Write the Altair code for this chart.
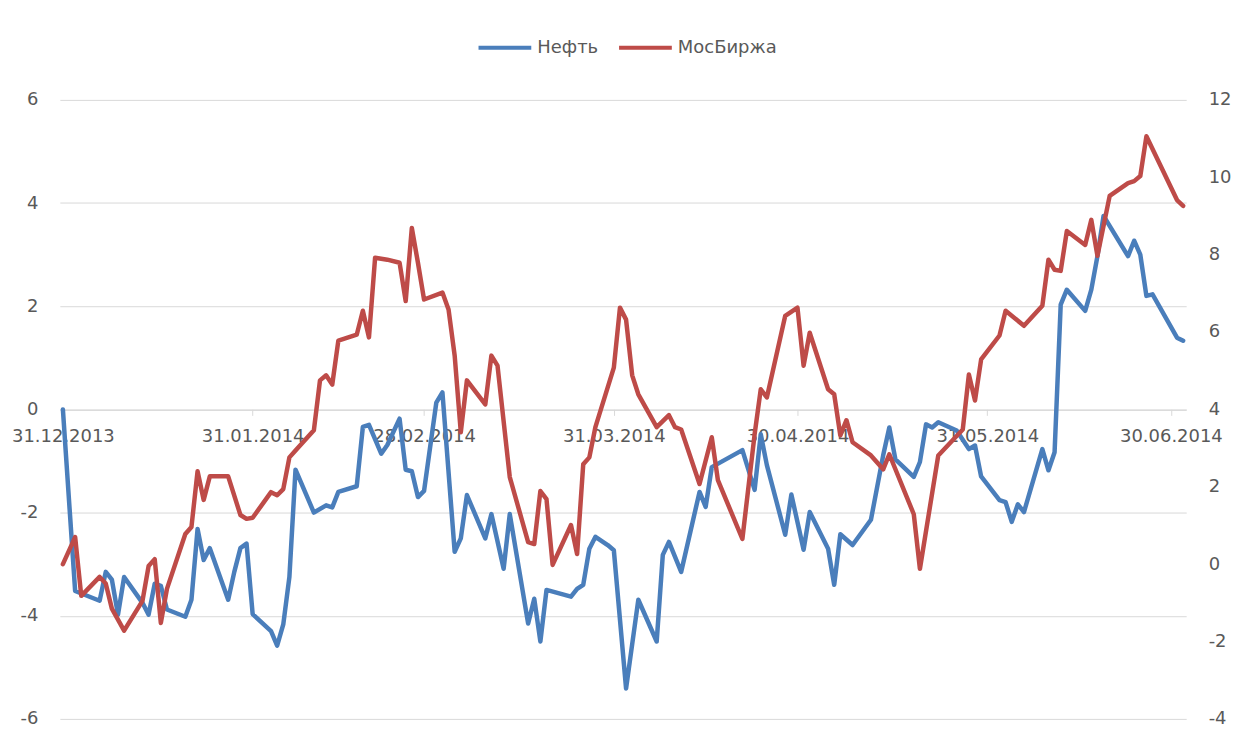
import altair as alt
import pandas as pd

# ---- data ----
neft_dates = [
    "2013-12-31", "2014-01-02", "2014-01-06", "2014-01-07", "2014-01-08", "2014-01-09", "2014-01-10",
    "2014-01-13", "2014-01-14", "2014-01-15", "2014-01-16", "2014-01-17", "2014-01-20", "2014-01-21",
    "2014-01-22", "2014-01-23", "2014-01-24", "2014-01-27", "2014-01-28", "2014-01-29", "2014-01-30",
    "2014-01-31", "2014-02-03", "2014-02-04", "2014-02-05", "2014-02-06", "2014-02-07", "2014-02-10",
    "2014-02-12", "2014-02-13", "2014-02-14", "2014-02-17", "2014-02-18", "2014-02-19", "2014-02-21",
    "2014-02-22", "2014-02-24", "2014-02-25", "2014-02-26", "2014-02-27", "2014-02-28", "2014-03-02",
    "2014-03-03", "2014-03-05", "2014-03-06", "2014-03-07", "2014-03-10", "2014-03-11", "2014-03-13",
    "2014-03-14", "2014-03-17", "2014-03-18", "2014-03-19", "2014-03-20", "2014-03-24", "2014-03-25",
    "2014-03-26", "2014-03-27", "2014-03-28", "2014-03-30", "2014-03-31", "2014-04-02", "2014-04-04",
    "2014-04-07", "2014-04-08", "2014-04-09", "2014-04-11", "2014-04-14", "2014-04-15", "2014-04-16",
    "2014-04-21", "2014-04-23", "2014-04-24", "2014-04-25", "2014-04-28", "2014-04-29", "2014-05-01",
    "2014-05-02", "2014-05-05", "2014-05-06", "2014-05-07", "2014-05-09", "2014-05-12", "2014-05-14",
    "2014-05-15", "2014-05-16", "2014-05-19", "2014-05-20", "2014-05-21", "2014-05-22", "2014-05-23",
    "2014-05-26", "2014-05-28", "2014-05-29", "2014-05-30", "2014-06-02", "2014-06-03", "2014-06-04",
    "2014-06-05", "2014-06-06", "2014-06-09", "2014-06-10", "2014-06-11", "2014-06-12", "2014-06-13",
    "2014-06-16", "2014-06-17", "2014-06-18", "2014-06-19", "2014-06-23", "2014-06-24", "2014-06-25",
    "2014-06-26", "2014-06-27", "2014-07-01", "2014-07-02",
]
neft_values = [
    0.00, -3.52, -3.71, -3.15, -3.30, -3.98, -3.25,
    -3.75, -3.98, -3.38, -3.42, -3.88, -4.02, -3.69,
    -2.32, -2.92, -2.69, -3.69, -3.15, -2.69, -2.60,
    -3.97, -4.30, -4.58, -4.17, -3.25, -1.17, -2.00,
    -1.86, -1.90, -1.60, -1.49, -0.34, -0.30, -0.86,
    -0.69, -0.18, -1.17, -1.20, -1.70, -1.58, 0.13,
    0.33, -2.76, -2.50, -1.66, -2.50, -2.03, -3.09,
    -2.03, -4.15, -3.67, -4.50, -3.50, -3.63, -3.48,
    -3.40, -2.70, -2.47, -2.63, -2.73, -5.41, -3.69,
    -4.50, -2.82, -2.57, -3.15, -1.60, -1.89, -1.12,
    -0.79, -1.56, -0.48, -1.08, -2.43, -1.65, -2.72,
    -1.99, -2.70, -3.40, -2.42, -2.63, -2.14, -0.89,
    -0.35, -0.97, -1.31, -1.02, -0.29, -0.35, -0.25,
    -0.41, -0.77, -0.70, -1.30, -1.76, -1.80, -2.18,
    -1.84, -1.99, -0.77, -1.18, -0.83, 2.03, 2.32,
    1.91, 2.32, 2.97, 3.75, 2.97, 3.27, 3.00,
    2.20, 2.23, 1.39, 1.33,
]

mos_dates = [
    "2013-12-31", "2014-01-02", "2014-01-03", "2014-01-06", "2014-01-07", "2014-01-08", "2014-01-10",
    "2014-01-13", "2014-01-14", "2014-01-15", "2014-01-16", "2014-01-17", "2014-01-20", "2014-01-21",
    "2014-01-22", "2014-01-23", "2014-01-24", "2014-01-27", "2014-01-29", "2014-01-30", "2014-01-31",
    "2014-02-03", "2014-02-04", "2014-02-05", "2014-02-06", "2014-02-07", "2014-02-10", "2014-02-11",
    "2014-02-12", "2014-02-13", "2014-02-14", "2014-02-17", "2014-02-18", "2014-02-19", "2014-02-20",
    "2014-02-22", "2014-02-24", "2014-02-25", "2014-02-26", "2014-02-27", "2014-02-28", "2014-03-03",
    "2014-03-04", "2014-03-05", "2014-03-06", "2014-03-07", "2014-03-10", "2014-03-11", "2014-03-12",
    "2014-03-14", "2014-03-17", "2014-03-18", "2014-03-19", "2014-03-20", "2014-03-21", "2014-03-24",
    "2014-03-25", "2014-03-26", "2014-03-27", "2014-03-28", "2014-03-31", "2014-04-01", "2014-04-02",
    "2014-04-03", "2014-04-04", "2014-04-07", "2014-04-09", "2014-04-10", "2014-04-11", "2014-04-14",
    "2014-04-16", "2014-04-17", "2014-04-21", "2014-04-23", "2014-04-24", "2014-04-25", "2014-04-28",
    "2014-04-30", "2014-05-01", "2014-05-02", "2014-05-05", "2014-05-06", "2014-05-07", "2014-05-08",
    "2014-05-09", "2014-05-12", "2014-05-14", "2014-05-15", "2014-05-19", "2014-05-20", "2014-05-23",
    "2014-05-27", "2014-05-28", "2014-05-29", "2014-05-30", "2014-06-02", "2014-06-03", "2014-06-06",
    "2014-06-09", "2014-06-10", "2014-06-11", "2014-06-12", "2014-06-13", "2014-06-16", "2014-06-17",
    "2014-06-18", "2014-06-20", "2014-06-23", "2014-06-24", "2014-06-25", "2014-06-26", "2014-07-01",
    "2014-07-02",
]
mos_values = [
    0.00, 0.70, -0.82, -0.33, -0.50, -1.15, -1.72,
    -0.95, -0.05, 0.13, -1.52, -0.64, 0.78, 0.96,
    2.40, 1.66, 2.27, 2.27, 1.27, 1.17, 1.20,
    1.86, 1.78, 1.94, 2.76, 2.94, 3.46, 4.75,
    4.88, 4.64, 5.78, 5.93, 6.55, 5.86, 7.92,
    7.87, 7.79, 6.80, 8.69, 7.79, 6.84, 7.02,
    6.58, 5.39, 3.41, 4.75, 4.13, 5.39, 5.13,
    2.25, 0.57, 0.52, 1.89, 1.68, -0.02, 1.01,
    0.26, 2.58, 2.76, 3.55, 5.08, 6.63, 6.32,
    4.88, 4.39, 3.54, 3.85, 3.54, 3.48, 2.07,
    3.28, 2.17, 0.65, 3.36, 4.52, 4.31, 6.42,
    6.63, 5.13, 5.98, 4.52, 4.39, 3.33, 3.72,
    3.15, 2.81, 2.45, 2.84, 1.29, -0.12, 2.81,
    3.48, 4.90, 4.23, 5.29, 5.91, 6.55, 6.16,
    6.68, 7.87, 7.61, 7.58, 8.61, 8.25, 8.90,
    7.97, 9.52, 9.85, 9.90, 10.03, 11.06, 9.41,
    9.26,
]

series_names = ["Нефть", "МосБиржа"]
series_colors = ["#4a7ebb", "#be4b48"]
left_ticks = [-6, -4, -2, 0, 2, 4, 6]
right_ticks = [-4, -2, 0, 2, 4, 6, 8, 10, 12]
x_tick_dates = [(2013, 12, 31), (2014, 1, 31), (2014, 2, 28), (2014, 3, 31),
                (2014, 4, 30), (2014, 5, 31), (2014, 6, 30)]

assert len(neft_dates) == len(neft_values)
assert len(mos_dates) == len(mos_values)

df_neft = pd.DataFrame({"date": neft_dates, "value": neft_values, "series": series_names[0]})
df_mos = pd.DataFrame({"date": mos_dates, "value": mos_values, "series": series_names[1]})

FONT = "DejaVu Sans"
TXT = "#595959"
GRID = "#d9d9d9"

W, H = 1130, 621

# plain hyphen-minus for negative tick labels, as in the reference
NUM_LABEL = "datum.value < 0 ? '-' + abs(datum.value) : '' + datum.value"

x_enc = alt.X(
    "date:T",
    scale=alt.Scale(
        type="utc",
        domain=[alt.DateTime(year=2013, month=12, date=30, hours=12, utc=True),
                alt.DateTime(year=2014, month=7, date=2, hours=12, utc=True)],
    ),
    axis=alt.Axis(
        title=None,
        values=[alt.DateTime(year=y, month=m, date=d, utc=True) for (y, m, d) in x_tick_dates],
        labelExpr="utcFormat(datum.value, '%d.%m.%Y')",
        offset=-H / 2,
        domainColor=GRID,
        tickColor=GRID,
        tickSize=6,
        labelPadding=12,
        labelFont=FONT,
        labelFontSize=18,
        labelColor=TXT,
        labelFlush=False,
        labelOverlap=False,
        grid=False,
    ),
)

color_enc = alt.Color(
    "series:N",
    scale=alt.Scale(domain=series_names, range=series_colors),
    legend=alt.Legend(
        title=None,
        orient="none",
        direction="horizontal",
        legendX=418,
        legendY=-81,
        symbolType="stroke",
        symbolSize=2800,
        symbolStrokeWidth=4,
        labelFont=FONT,
        labelFontSize=18,
        labelColor=TXT,
        labelOffset=4,
        columnPadding=12,
        padding=0,
    ),
)

neft = alt.Chart(df_neft).mark_line(strokeWidth=4.5, strokeJoin="round", strokeCap="round").encode(
    x=x_enc,
    y=alt.Y(
        "value:Q",
        scale=alt.Scale(domain=[-6, 6], nice=False, zero=False),
        axis=alt.Axis(
            title=None, orient="left", values=left_ticks, grid=True, gridColor=GRID,
            domain=False, ticks=False, labelPadding=22, labelFont=FONT, labelFontSize=18,
            labelColor=TXT, labelFlush=False, labelExpr=NUM_LABEL,
        ),
    ),
    color=color_enc,
)

mos = alt.Chart(df_mos).mark_line(strokeWidth=4.5, strokeJoin="round", strokeCap="round").encode(
    x=x_enc,
    y=alt.Y(
        "value:Q",
        scale=alt.Scale(domain=[-4, 12], nice=False, zero=False),
        axis=alt.Axis(
            title=None, orient="right", values=right_ticks, grid=False,
            domain=False, ticks=False, labelPadding=22, labelFont=FONT, labelFontSize=18,
            labelColor=TXT, labelFlush=False, labelExpr=NUM_LABEL,
        ),
    ),
    color=color_enc,
)

chart = (
    alt.layer(neft, mos)
    .resolve_scale(y="independent", color="shared")
    .properties(
        width=W,
        height=H,
        autosize=alt.AutoSizeParams(type="none"),
        padding={"left": 52, "top": 91, "right": 62, "bottom": 20},
        background="white",
    )
    .configure_view(stroke=None)
)

chart.save("out.html", embed_options={"renderer": "svg", "actions": False})
